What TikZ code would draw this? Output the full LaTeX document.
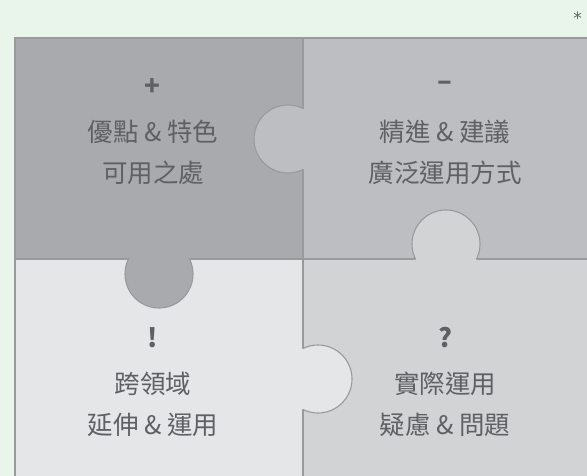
\documentclass[tikz,border=0pt]{standalone}
\usepackage{fontspec}
\newfontfamily\cjk{Noto Sans CJK TC}
\newfontfamily\dejavu{DejaVu Sans}
\definecolor{bg}{HTML}{E9F4EB}
\definecolor{cTL}{HTML}{A9AAAD}
\definecolor{cTR}{HTML}{BDBEC2}
\definecolor{cBL}{HTML}{E5E6E8}
\definecolor{cBR}{HTML}{D2D3D5}
\definecolor{edge}{HTML}{9A9A9C}
\definecolor{ink}{HTML}{5F6063}
\tikzset{
  seam/.style={draw=edge, line width=1.1pt},
  txt/.style={text=ink, font=\cjk\fontsize{25.5}{25.5}\selectfont, inner sep=0pt, anchor=center},
  sym/.style={text=ink, font=\cjk\bfseries\fontsize{26}{26}\selectfont, inner sep=0pt, anchor=center},
}
\begin{document}
\begin{tikzpicture}[x=1pt,y=-1pt]
\useasboundingbox (0,0) rectangle (587,476);
\fill[bg] (0,0) rectangle (587,476);
% pieces
\fill[cTL] (15,38) rectangle (303,259);
\fill[cTR] (303,38) rectangle (592,259);
\fill[cBL] (15,259) rectangle (303,481);
\fill[cBR] (303,259) rectangle (592,481);
\draw[seam] (303,38) -- (303,481);
\draw[seam] (15,259) -- (592,259);
\draw[seam] (15,481) -- (15,38) -- (592,38);
% tabs
\fill[cTR] (288,139) circle (34);
\begin{scope}\clip (0,38) rectangle (303,259); \draw[seam] (288,139) circle (34);\end{scope}
\fill[cTL] (159,274) circle (34);
\begin{scope}\clip (15,259) rectangle (303,481); \draw[seam] (159,274) circle (34);\end{scope}
\fill[cBR] (446,244) circle (34);
\begin{scope}\clip (303,38) rectangle (592,259); \draw[seam] (446,244) circle (34);\end{scope}
\fill[cBL] (318,379) circle (34);
\begin{scope}\clip (303,259) rectangle (592,481); \draw[seam] (318,379) circle (34);\end{scope}
% texts
\node[sym] (plus) at (152,87.5) {+};
\node[txt] (tl1) at (153,132) {優點 \& 特色};
\node[txt] (tl2) at (153,173) {可用之處};
\node[sym, font=\cjk\bfseries\fontsize{27}{27}\selectfont] (minus) at (445,85.7) {–};
\node[txt] (tr1) at (445,132) {精進 \& 建議};
\node[txt] (tr2) at (445,173) {廣泛運用方式};
\node[sym] (excl) at (153,338) {!};
\node[txt] (bl1) at (153,384) {跨領域};
\node[txt] (bl2) at (153,425) {延伸 \& 運用};
\node[sym] (quest) at (445,338) {?};
\node[txt] (br1) at (445,384) {實際運用};
\node[txt] (br2) at (445,425) {疑慮 \& 問題};
\node[text=ink, font=\dejavu\fontsize{17}{17}\selectfont, inner sep=0pt] (star) at (577.5,18) {*};
\end{tikzpicture}
\end{document}
